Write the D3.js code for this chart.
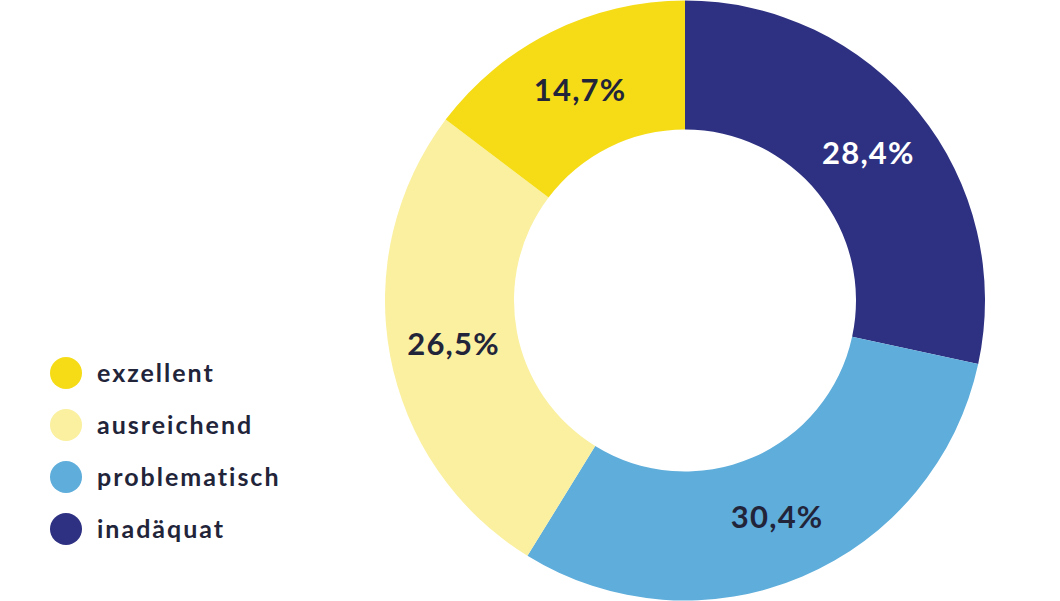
<!DOCTYPE html>
<html>
<head>
<meta charset="utf-8">
<script src="https://cdn.jsdelivr.net/npm/d3@7"></script>
<style>
  html, body { margin: 0; padding: 0; background: #fff; }
  svg { display: block; font-family: "Lato", "Inter", sans-serif; }
</style>
</head>
<body>
<svg class="chart"></svg>
<script>
const categories = ["inadäquat", "problematisch", "ausreichend", "exzellent"];
const values = [28.4, 30.4, 26.5, 14.7];
const legendOrder = ["exzellent", "ausreichend", "problematisch", "inadäquat"];

const width = 1060;
const height = 601;
const cx = 685;
const cy = 300.5;
const outerR = 300;
const innerR = 171;

const color = d3.scaleOrdinal()
  .domain(categories)
  .range(["#2e3182", "#5eaddb", "#faf09f", "#f5dc17"]);

const labelColor = d3.scaleOrdinal()
  .domain(categories)
  .range(["#ffffff", "#22243a", "#22243a", "#22243a"]);

const svg = d3.select(".chart").attr("width", width).attr("height", height);

const pie = d3.pie().sort(null).value((d) => d.value);
const arc = d3.arc().innerRadius(innerR).outerRadius(outerR);

const data = categories.map((c, i) => ({ name: c, value: values[i] }));

const g = svg.append("g").attr("transform", `translate(${cx},${cy})`);

const slice = g.selectAll("g").data(pie(data)).enter().append("g");

slice
  .append("path")
  .attr("d", arc)
  .attr("fill", (d) => color(d.data.name));

slice
  .append("text")
  .attr("transform", (d) => `translate(${arc.centroid(d)})`)
  .attr("text-anchor", "middle")
  .attr("dy", "0.36em")
  .attr("font-size", 31)
  .attr("font-weight", 700)
  .attr("letter-spacing", 1.2)
  .attr("fill", (d) => labelColor(d.data.name))
  .text((d) => d.data.value.toFixed(1).replace(".", ",") + "%");

// legend
const y = d3.scalePoint().domain(legendOrder).range([373, 529]);

const legend = svg.append("g");
const item = legend
  .selectAll("g")
  .data(legendOrder)
  .enter()
  .append("g")
  .attr("transform", (d) => `translate(0,${y(d)})`);

item
  .append("circle")
  .attr("cx", 66)
  .attr("r", 16)
  .attr("fill", (d) => color(d));

item
  .append("text")
  .attr("x", 97)
  .attr("dy", "0.35em")
  .attr("font-size", 25)
  .attr("font-weight", 700)
  .attr("letter-spacing", 2)
  .attr("fill", "#22243a")
  .text((d) => d);
</script>
</body>
</html>
